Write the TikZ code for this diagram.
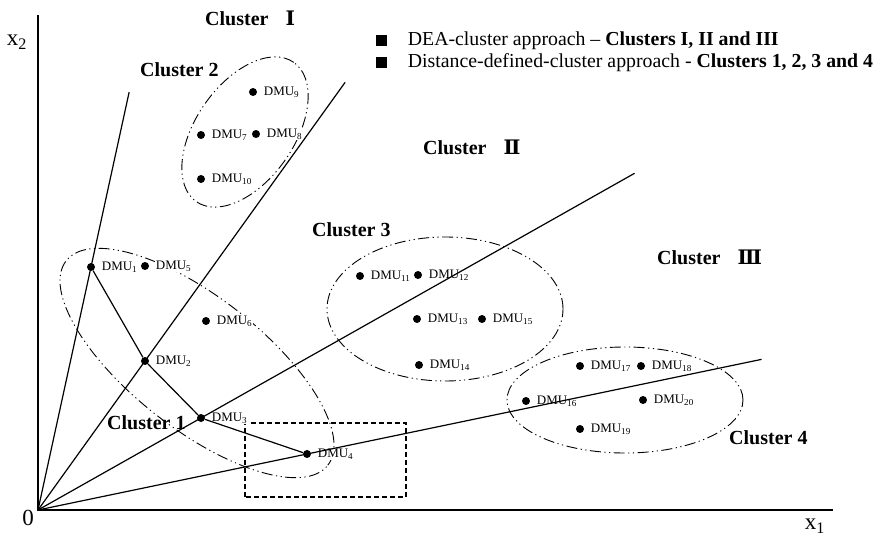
\documentclass[tikz,border=0pt]{standalone}
\usepackage{fontspec}
\setmainfont{Liberation Serif}
\newfontfamily\numfont{DejaVu Serif}
\usepackage{tikz}
\usetikzlibrary{positioning,calc}
\tikzset{
  dmu/.style={circle, fill=black, inner sep=0pt, minimum size=8pt},
  dmulabel/.style={fill=white, inner sep=0.5pt, font=\fontsize{13}{15}\selectfont},
  clusterlabel/.style={inner sep=0pt, anchor=west, font=\fontsize{20}{22}\selectfont\bfseries},
  axislabel/.style={inner sep=0pt, font=\fontsize{23}{25}\selectfont},
  legendbox/.style={fill=black, inner sep=0pt, minimum size=11pt},
  legendtext/.style={inner sep=0pt, font=\fontsize{19.8}{22}\selectfont},
  axisline/.style={line width=1.6pt},
  ray/.style={line width=1.2pt},
  clusterring/.style={line width=0.9pt, dash pattern=on 11pt off 3.5pt on 1.2pt off 3.5pt on 1.2pt off 3.5pt},
  zoombox/.style={line width=1.1pt, dash pattern=on 5pt off 3pt}
}
\newcommand{\dmutext}[1]{DMU\textsubscript{#1}}
\newcommand{\axisvar}[1]{x\textsubscript{#1}}
\newcommand{\clusnum}[1]{\hspace{17pt}{\numfont\bfseries #1}}

\begin{document}
\begin{tikzpicture}[x=1pt, y=1pt, node distance=6pt]
\useasboundingbox (0,0) rectangle (876,539);

% axes
\coordinate (O) at (38,29);
\coordinate (ytop) at (38,524);
\coordinate (xend) at (833,29);
\draw[axisline] (ytop) -- (O) -- (xend);
\node[axislabel] (x2) at (17,497) {\axisvar{2}};
\node[axislabel] (x1) at (815,13) {\axisvar{1}};
\node[axislabel] (zero) at (28,21) {0};

% distance-defined clusters (under the labels)
\draw[clusterring] (197,176) ellipse [x radius=166, y radius=66, rotate=-38];
\draw[clusterring] (245,407) ellipse [x radius=85, y radius=49, rotate=55];
\draw[clusterring] (445,230) ellipse [x radius=118, y radius=72];
\draw[clusterring] (625,139) ellipse [x radius=118, y radius=53];
\draw[zoombox] (245,42) rectangle (406,116);

% DMUs
\node[dmu] (d1) at (91,272) {};   \node[dmulabel, right=of d1] (l1) {\dmutext{1}};
\node[dmu] (d2) at (145,178) {};  \node[dmulabel, right=of d2] (l2) {\dmutext{2}};
\node[dmu] (d3) at (201,121) {};  \node[dmulabel, right=of d3] (l3) {\dmutext{3}};
\node[dmu] (d4) at (307,85) {};   \node[dmulabel, right=of d4] (l4) {\dmutext{4}};
\node[dmu] (d5) at (145,273) {};  \node[dmulabel, right=of d5] (l5) {\dmutext{5}};
\node[dmu] (d6) at (206,218) {};  \node[dmulabel, right=of d6] (l6) {\dmutext{6}};
\node[dmu] (d7) at (201,404) {};  \node[dmulabel, right=of d7] (l7) {\dmutext{7}};
\node[dmu] (d8) at (256,405) {};  \node[dmulabel, right=of d8] (l8) {\dmutext{8}};
\node[dmu] (d9) at (253,447) {};  \node[dmulabel, right=of d9] (l9) {\dmutext{9}};
\node[dmu] (d10) at (201,360) {}; \node[dmulabel, right=of d10] (l10) {\dmutext{10}};
\node[dmu] (d11) at (360,263) {}; \node[dmulabel, right=of d11] (l11) {\dmutext{11}};
\node[dmu] (d12) at (418,264) {}; \node[dmulabel, right=of d12] (l12) {\dmutext{12}};
\node[dmu] (d13) at (417,220) {}; \node[dmulabel, right=of d13] (l13) {\dmutext{13}};
\node[dmu] (d14) at (419,174) {}; \node[dmulabel, right=of d14] (l14) {\dmutext{14}};
\node[dmu] (d15) at (482,220) {}; \node[dmulabel, right=of d15] (l15) {\dmutext{15}};
\node[dmu] (d16) at (526,138) {}; \node[dmulabel, right=of d16] (l16) {\dmutext{16}};
\node[dmu] (d17) at (580,173) {}; \node[dmulabel, right=of d17] (l17) {\dmutext{17}};
\node[dmu] (d18) at (641,173) {}; \node[dmulabel, right=of d18] (l18) {\dmutext{18}};
\node[dmu] (d19) at (580,110) {}; \node[dmulabel, right=of d19] (l19) {\dmutext{19}};
\node[dmu] (d20) at (643,139) {}; \node[dmulabel, right=of d20] (l20) {\dmutext{20}};

% rays through the frontier DMUs
\coordinate (r1) at ($(O)!1.72!(d1)$);
\coordinate (r2) at ($(O)!2.87!(d2)$);
\coordinate (r3) at ($(O)!3.66!(d3)$);
\coordinate (r4) at ($(O)!2.69!(d4)$);
\draw[ray] (O) -- (r1);
\draw[ray] (O) -- (r2);
\draw[ray] (O) -- (r3);
\draw[ray] (O) -- (r4);
\draw[ray] (d1) -- (d2) -- (d3) -- (d4);

% cluster names
\node[clusterlabel] (c1) at (107,116) {Cluster 1};
\node[clusterlabel] (c2) at (140,469) {Cluster 2};
\node[clusterlabel] (c3) at (312,309) {Cluster 3};
\node[clusterlabel] (c4) at (729,101) {Cluster 4};
\node[clusterlabel] (cI) at (205,521) {Cluster\clusnum{Ⅰ}};
\node[clusterlabel] (cII) at (423,392) {Cluster\clusnum{Ⅱ}};
\node[clusterlabel] (cIII) at (657,282) {Cluster\clusnum{Ⅲ}};

% legend
\node[legendbox] (k1) at (381,498) {};
\node[legendbox] (k2) at (381,476) {};
\node[legendtext, right=21pt of k1] (t1) {DEA-cluster approach -- \textbf{Clusters I, II and III}};
\node[legendtext, right=21pt of k2] (t2) {Distance-defined-cluster approach - \textbf{Clusters 1, 2, 3 and 4}};
\end{tikzpicture}
\end{document}
